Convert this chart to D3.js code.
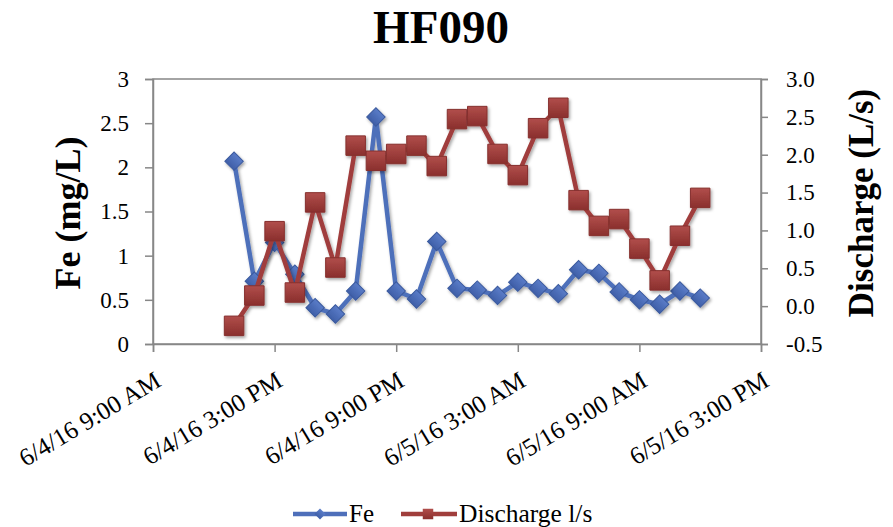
<!DOCTYPE html>
<html>
<head>
<meta charset="utf-8">
<script src="https://cdn.jsdelivr.net/npm/d3@7"></script>
<style>
  html, body { margin: 0; padding: 0; background: #fff; }
  svg { display: block; }
  text { font-family: "Liberation Serif", "Times New Roman", serif; fill: #000; }
</style>
</head>
<body>
<svg id="chart" width="893" height="527"></svg>
<script>
// ---- data ----
const times = [
  "2016-06-04T13:00", "2016-06-04T14:00", "2016-06-04T15:00", "2016-06-04T16:00",
  "2016-06-04T17:00", "2016-06-04T18:00", "2016-06-04T19:00", "2016-06-04T20:00",
  "2016-06-04T21:00", "2016-06-04T22:00", "2016-06-04T23:00", "2016-06-05T00:00",
  "2016-06-05T01:00", "2016-06-05T02:00", "2016-06-05T03:00", "2016-06-05T04:00",
  "2016-06-05T05:00", "2016-06-05T06:00", "2016-06-05T07:00", "2016-06-05T08:00",
  "2016-06-05T09:00", "2016-06-05T10:00", "2016-06-05T11:00", "2016-06-05T12:00"
];
const fe = [2.07, 0.71, 1.15, 0.79, 0.41, 0.34, 0.60, 2.57, 0.60, 0.51, 1.16, 0.63,
            0.61, 0.55, 0.70, 0.63, 0.57, 0.84, 0.80, 0.59, 0.50, 0.45, 0.60, 0.52];
const discharge = [-0.26, 0.14, 0.99, 0.18, 1.37, 0.51, 2.12, 1.92, 2.01, 2.12, 1.85, 2.47,
                   2.51, 2.01, 1.73, 2.35, 2.62, 1.40, 1.06, 1.15, 0.76, 0.34, 0.93, 1.43];
const xDomain = ["2016-06-04T09:00", "2016-06-05T15:00"];
const xTickTimes = ["2016-06-04T09:00", "2016-06-04T15:00", "2016-06-04T21:00",
                    "2016-06-05T03:00", "2016-06-05T09:00", "2016-06-05T15:00"];
const xTickLabels = ["6/4/16 9:00 AM", "6/4/16 3:00 PM", "6/4/16 9:00 PM",
                     "6/5/16 3:00 AM", "6/5/16 9:00 AM", "6/5/16 3:00 PM"];
const leftTicks = [0, 0.5, 1, 1.5, 2, 2.5, 3];
const leftTickLabels = ["0", "0.5", "1", "1.5", "2", "2.5", "3"];
const rightTicks = [-0.5, 0, 0.5, 1, 1.5, 2, 2.5, 3];
const rightTickLabels = ["-0.5", "0.0", "0.5", "1.0", "1.5", "2.0", "2.5", "3.0"];
const seriesNames = ["Fe", "Discharge l/s"];
const title = "HF090";
const leftTitle = "Fe (mg/L)";
const rightTitle = "Discharge (L/s)";

// ---- layout ----
const plot = { left: 153, right: 761, top: 79, bottom: 344 };
const parse = d3.timeParse("%Y-%m-%dT%H:%M");
const svg = d3.select("#chart");

const x = d3.scaleTime().domain(xDomain.map(parse)).range([plot.left, plot.right]);
const yL = d3.scaleLinear().domain([0, 3]).range([plot.bottom, plot.top]);
const yR = d3.scaleLinear().domain([-0.5, 3]).range([plot.bottom, plot.top]);

const defs = svg.append("defs");
const f = defs.append("filter").attr("id", "shadow")
  .attr("x", "-50%").attr("y", "-50%").attr("width", "200%").attr("height", "200%");
f.append("feDropShadow").attr("dx", 1.5).attr("dy", 2).attr("stdDeviation", 1.5)
  .attr("flood-color", "#000").attr("flood-opacity", 0.35);

function grad(id, c1, c2) {
  const g = defs.append("linearGradient").attr("id", id)
    .attr("x1", 0).attr("y1", 0).attr("x2", 0).attr("y2", 1);
  g.append("stop").attr("offset", "0%").attr("stop-color", c1);
  g.append("stop").attr("offset", "100%").attr("stop-color", c2);
}
grad("gBlue", "#5a7cc8", "#3f5fa8");
grad("gRed", "#b14e4b", "#8a2f2d");

const axisColor = "#878787";

// plot border
svg.append("rect")
  .attr("x", plot.left).attr("y", plot.top)
  .attr("width", plot.right - plot.left).attr("height", plot.bottom - plot.top)
  .attr("fill", "none").attr("stroke", axisColor).attr("stroke-width", 1.5);

// axes
const gL = svg.append("g").attr("transform", `translate(${plot.left},0)`)
  .call(d3.axisLeft(yL).tickValues(leftTicks).tickSize(8).tickPadding(16)
        .tickFormat((d, i) => leftTickLabels[i]));
const gR = svg.append("g").attr("transform", `translate(${plot.right},0)`)
  .call(d3.axisRight(yR).tickValues(rightTicks).tickSize(7).tickPadding(18)
        .tickFormat((d, i) => rightTickLabels[i]));
const gX = svg.append("g").attr("transform", `translate(0,${plot.bottom})`)
  .call(d3.axisBottom(x).tickValues(xTickTimes.map(parse)).tickSize(8)
        .tickFormat((d, i) => xTickLabels[i]));

[gL, gR, gX].forEach(g => {
  g.select(".domain").attr("stroke", axisColor).attr("stroke-width", 1.5);
  g.selectAll(".tick line").attr("stroke", axisColor).attr("stroke-width", 1.5);
  g.selectAll(".tick text").style("font-family", '"Liberation Serif", serif')
    .style("font-size", "23px").attr("fill", "#000");
});
gX.selectAll(".tick text")
  .style("font-size", "25px")
  .attr("text-anchor", "end")
  .attr("y", 0).attr("dy", 0)
  .attr("transform", "translate(9,41) rotate(-31)");

// lines
const lineFe = d3.line().x((d, i) => x(parse(times[i]))).y(d => yL(d));
const lineQ = d3.line().x((d, i) => x(parse(times[i]))).y(d => yR(d));

const blueLine = "#4e6fba", redLine = "#a03e3c";

const gFe = svg.append("g").attr("filter", "url(#shadow)");
gFe.append("path").datum(fe).attr("d", lineFe)
  .attr("fill", "none").attr("stroke", blueLine).attr("stroke-width", 4.5)
  .attr("stroke-linejoin", "round");
gFe.selectAll("path.m").data(fe).join("path").attr("class", "m")
  .attr("d", d3.symbol(d3.symbolSquare, 170)())
  .attr("transform", (d, i) => `translate(${x(parse(times[i]))},${yL(d)}) rotate(45)`)
  .attr("fill", "url(#gBlue)").attr("stroke", "#3b5a9e").attr("stroke-width", 1);

const gQ = svg.append("g").attr("filter", "url(#shadow)");
gQ.append("path").datum(discharge).attr("d", lineQ)
  .attr("fill", "none").attr("stroke", redLine).attr("stroke-width", 4.5)
  .attr("stroke-linejoin", "round");
gQ.selectAll("path.m").data(discharge).join("path").attr("class", "m")
  .attr("d", d3.symbol(d3.symbolSquare, 380)())
  .attr("transform", (d, i) => `translate(${x(parse(times[i]))},${yR(d)})`)
  .attr("fill", "url(#gRed)").attr("stroke", "#86302e").attr("stroke-width", 1);

// titles
svg.append("text").attr("x", 441).attr("y", 43).attr("text-anchor", "middle")
  .style("font-size", "47px").style("font-weight", "bold").text(title);
svg.append("text").attr("transform", "translate(80,213) rotate(-90)")
  .attr("text-anchor", "middle")
  .style("font-size", "36px").style("font-weight", "bold").text(leftTitle);
svg.append("text").attr("transform", "translate(873,203) rotate(-90)")
  .attr("text-anchor", "middle")
  .style("font-size", "35px").style("font-weight", "bold").text(rightTitle);

// legend
const ly = 514;
const leg = svg.append("g");
leg.append("line").attr("x1", 293).attr("x2", 347).attr("y1", ly).attr("y2", ly)
  .attr("stroke", blueLine).attr("stroke-width", 4.5);
leg.append("path").attr("d", d3.symbol(d3.symbolSquare, 60)())
  .attr("transform", `translate(320,${ly}) rotate(45)`).attr("fill", "url(#gBlue)");
leg.append("text").attr("x", 349).attr("y", ly + 8).style("font-size", "25px").text(seriesNames[0]);
leg.append("line").attr("x1", 401).attr("x2", 457).attr("y1", ly).attr("y2", ly)
  .attr("stroke", redLine).attr("stroke-width", 4.5);
leg.append("path").attr("d", d3.symbol(d3.symbolSquare, 110)())
  .attr("transform", `translate(428,${ly})`).attr("fill", "url(#gRed)");
leg.append("text").attr("x", 459).attr("y", ly + 8).style("font-size", "25.5px").text(seriesNames[1]);
</script>
</body>
</html>
